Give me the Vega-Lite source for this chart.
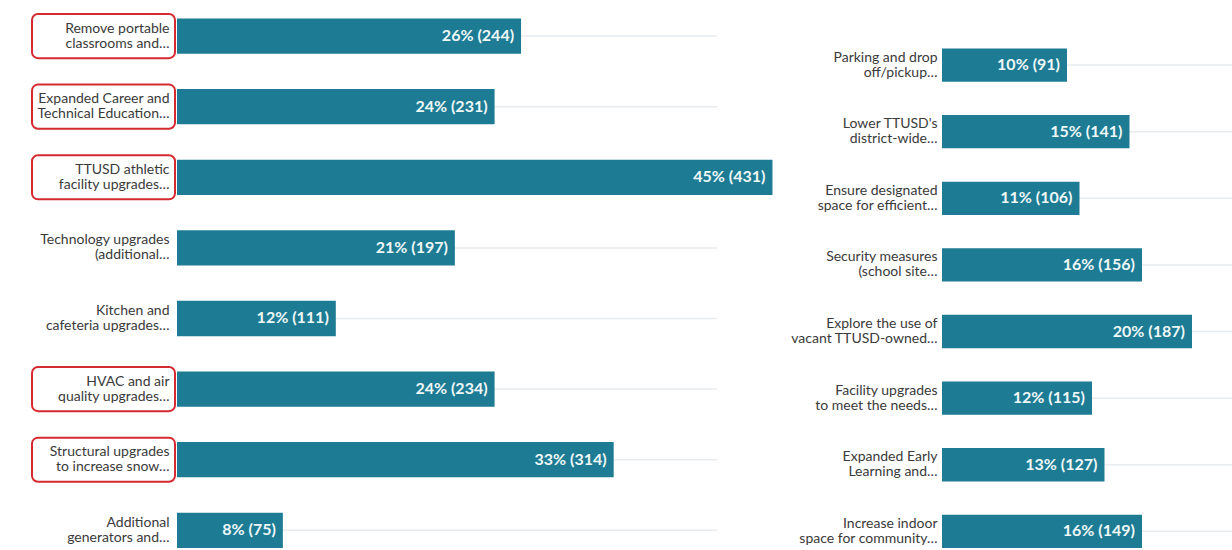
{
  "$schema": "https://vega.github.io/schema/vega-lite/v6.json",
  "background": "white",
  "padding": {"left": 31, "top": 0, "right": 0, "bottom": 0},
  "autosize": {"type": "pad"},
  "bounds": "flush",
  "spacing": 151,
  "config": {
    "view": {"stroke": null},
    "axisY": {"title": null, "domain": false, "ticks": false, "grid": false, "labelFont": "Lato", "labelFontSize": 14, "labelColor": "#3a3a3a", "labelLineHeight": 15, "labelOffset": -7.5, "labelLimit": 0, "labelExpr": "split(datum.label, '|')"}
  },
  "datasets": {
    "left": [
      {"option": "Remove portable|classrooms and…", "pct": 26, "count": 244, "shown": "26% (244)", "highlight": true},
      {"option": "Expanded Career and|Technical Education…", "pct": 24, "count": 231, "shown": "24% (231)", "highlight": true},
      {"option": "TTUSD athletic|facility upgrades…", "pct": 45, "count": 431, "shown": "45% (431)", "highlight": true},
      {"option": "Technology upgrades|(additional…", "pct": 21, "count": 197, "shown": "21% (197)", "highlight": false},
      {"option": "Kitchen and|cafeteria upgrades…", "pct": 12, "count": 111, "shown": "12% (111)", "highlight": false},
      {"option": "HVAC and air|quality upgrades…", "pct": 24, "count": 234, "shown": "24% (234)", "highlight": true},
      {"option": "Structural upgrades|to increase snow…", "pct": 33, "count": 314, "shown": "33% (314)", "highlight": true},
      {"option": "Additional|generators and…", "pct": 8, "count": 75, "shown": "8% (75)", "highlight": false}
    ],
    "right": [
      {"option": "Parking and drop|off/pickup…", "pct": 10, "count": 91, "shown": "10% (91)"},
      {"option": "Lower TTUSD's|district-wide…", "pct": 15, "count": 141, "shown": "15% (141)"},
      {"option": "Ensure designated|space for efficient…", "pct": 11, "count": 106, "shown": "11% (106)"},
      {"option": "Security measures|(school site…", "pct": 16, "count": 156, "shown": "16% (156)"},
      {"option": "Explore the use of|vacant TTUSD-owned…", "pct": 20, "count": 187, "shown": "20% (187)"},
      {"option": "Facility upgrades|to meet the needs…", "pct": 12, "count": 115, "shown": "12% (115)"},
      {"option": "Expanded Early|Learning and…", "pct": 13, "count": 127, "shown": "13% (127)"},
      {"option": "Increase indoor|space for community…", "pct": 16, "count": 149, "shown": "16% (149)"}
    ]
  },
  "hconcat": [
    {
      "data": {"name": "left"},
      "width": 614,
      "height": 550,
      "encoding": {
        "y": {"field": "option", "type": "nominal", "sort": null, "scale": {"paddingInner": 0.5, "paddingOuter": 0.145, "align": 0.9}, "axis": {"labelPadding": 8}}
      },
      "layer": [
        {
          "mark": {"type": "rule", "color": "#e8ecef", "strokeWidth": 1.5},
          "encoding": {"x": {"datum": 0, "type": "quantitative", "scale": {"domain": [0, 46.4], "nice": false}, "axis": null}, "x2": {"datum": 40.8}}
        },
        {
          "mark": {"type": "bar", "color": "#1e7b94"},
          "encoding": {"x": {"field": "pct", "type": "quantitative", "axis": null}}
        },
        {
          "mark": {"type": "text", "align": "right", "baseline": "middle", "dx": -7, "color": "#eef8f8", "font": "Lato", "fontSize": 16, "fontWeight": "bold"},
          "encoding": {"x": {"field": "pct", "type": "quantitative"}, "text": {"field": "shown"}}
        },
        {
          "transform": [{"filter": "datum.highlight"}],
          "mark": {"type": "rect", "filled": false, "stroke": "#d42a30", "strokeWidth": 2, "cornerRadius": 6, "height": {"band": 1.25}},
          "encoding": {"x": {"value": -145}, "x2": {"value": -2}}
        }
      ]
    },
    {
      "data": {"name": "right"},
      "width": 290,
      "height": 550,
      "encoding": {
        "y": {"field": "option", "type": "nominal", "sort": null, "scale": {"paddingInner": 0.5, "paddingOuter": 0.379, "align": 0.96}, "axis": {"labelPadding": 5}}
      },
      "layer": [
        {
          "mark": {"type": "rule", "color": "#e8ecef", "strokeWidth": 1.5},
          "encoding": {"x": {"datum": 0, "type": "quantitative", "scale": {"domain": [0, 23.2], "nice": false}, "axis": null}, "x2": {"datum": 23.2}}
        },
        {
          "mark": {"type": "bar", "color": "#1e7b94"},
          "encoding": {"x": {"field": "pct", "type": "quantitative", "axis": null}}
        },
        {
          "mark": {"type": "text", "align": "right", "baseline": "middle", "dx": -7, "color": "#eef8f8", "font": "Lato", "fontSize": 16, "fontWeight": "bold"},
          "encoding": {"x": {"field": "pct", "type": "quantitative"}, "text": {"field": "shown"}}
        }
      ]
    }
  ]
}
